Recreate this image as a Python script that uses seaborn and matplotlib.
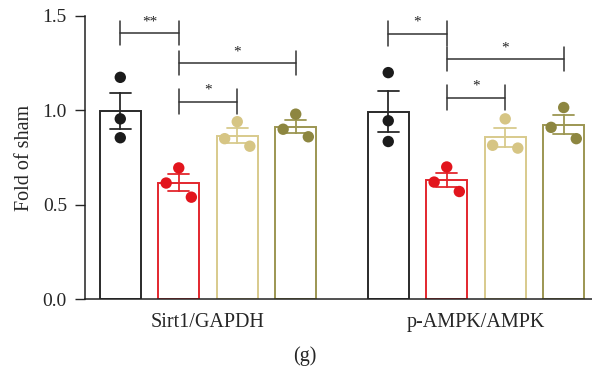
import numpy as np
import pandas as pd
import seaborn as sns
import matplotlib.pyplot as plt

sns.set_style("ticks")
plt.rcParams['font.family'] = ['Liberation Serif', 'DejaVu Serif']

markers = ["Sirt1/GAPDH", "p-AMPK/AMPK"]
groups = ["Sham", "Model", "Low", "High"]
dot_colors = ["#1b1b1b", "#e2151d", "#d6c584", "#8d8640"]
bar_colors = ["#2a2a2a", "#e3262d", "#d8ca8c", "#9c9652"]

# individual animals, fold of sham
sirt1_sham = [1.175, 0.955, 0.855]
sirt1_model = [0.695, 0.615, 0.540]
sirt1_low = [0.940, 0.850, 0.810]
sirt1_high = [0.980, 0.900, 0.860]
ampk_sham = [1.200, 0.945, 0.835]
ampk_model = [0.700, 0.620, 0.570]
ampk_low = [0.955, 0.815, 0.800]
ampk_high = [1.015, 0.910, 0.850]

# significance: (marker, group a, group b, bracket height, label)
sig_marker = [0, 0, 0, 1, 1, 1]
sig_a = [0, 1, 1, 0, 1, 1]
sig_b = [1, 3, 2, 1, 3, 2]
sig_y = [1.41, 1.25, 1.046, 1.407, 1.273, 1.067]
sig_text = ["**", "*", "*", "*", "*", "*"]

rows = []
vals = {("Sirt1/GAPDH", "Sham"): sirt1_sham, ("Sirt1/GAPDH", "Model"): sirt1_model,
        ("Sirt1/GAPDH", "Low"): sirt1_low, ("Sirt1/GAPDH", "High"): sirt1_high,
        ("p-AMPK/AMPK", "Sham"): ampk_sham, ("p-AMPK/AMPK", "Model"): ampk_model,
        ("p-AMPK/AMPK", "Low"): ampk_low, ("p-AMPK/AMPK", "High"): ampk_high}
for (m, g), v in vals.items():
    for x in v:
        rows.append({"marker": m, "group": g, "value": x})
df = pd.DataFrame(rows)

fig = plt.figure(figsize=(5.92, 3.72), dpi=100)
ax = fig.add_axes([0.1436, 0.196, 0.8564, 0.761])

sns.barplot(data=df, x="marker", y="value", hue="group", order=markers,
            hue_order=groups, palette=dict(zip(groups, bar_colors)),
            fill=False, errorbar="se", capsize=0.32, width=0.873, gap=0.3,
            linewidth=1.4, err_kws={"linewidth": 1.3}, legend=False, ax=ax)

centers = sorted(p.get_x() + p.get_width() / 2 for p in ax.patches)

n_before = len(ax.collections)
sns.stripplot(data=df, x="marker", y="value", hue="group", order=markers,
              hue_order=groups, palette=dict(zip(groups, dot_colors)),
              dodge=True, jitter=False, size=8.2, linewidth=0, legend=False,
              zorder=4, ax=ax)

# GraphPad-like spread: highest dot in middle, next left, lowest right
spread = 0.047
for coll in ax.collections[n_before:]:
    off = coll.get_offsets().copy()
    if len(off) == 0:
        continue
    idx = np.array([int(np.argmin([abs(x - c) for c in centers])) for x in off[:, 0]])
    for b in np.unique(idx):
        sel = np.where(idx == b)[0]
        order = sel[np.argsort(-off[sel, 1])]
        off[sel, 0] = centers[b]
        if b % 4 != 0 and len(order) == 3:
            off[order[1], 0] -= spread
            off[order[2], 0] += spread
    coll.set_offsets(off)

tick_h = 0.065
for m, a, b, y, t in zip(sig_marker, sig_a, sig_b, sig_y, sig_text):
    x1 = centers[m * 4 + a]
    x2 = centers[m * 4 + b]
    ax.plot([x1, x2], [y, y], color="#333333", lw=1.1, clip_on=False)
    for xx in (x1, x2):
        ax.plot([xx, xx], [y - tick_h, y + tick_h], color="#333333", lw=1.1,
                clip_on=False)
    ax.text((x1 + x2) / 2, y + 0.025, t, ha="center", va="bottom",
            fontsize=11, color="#222222")

ax.set_xlim(-0.459, 1.433)
ax.set_ylim(0, 1.5)
ax.set_yticks([0, 0.5, 1.0, 1.5])
ax.set_yticklabels(["0.0", "0.5", "1.0", "1.5"])
ax.set_xlabel("")
ax.set_ylabel("Fold of sham", fontsize=14.5, labelpad=6)
ax.tick_params(axis="y", length=7, width=1, labelsize=14, pad=6)
ax.tick_params(axis="x", length=0, labelsize=14.5, pad=10)
for s in ("left", "bottom"):
    ax.spines[s].set_linewidth(1.1)
    ax.spines[s].set_color("#222222")
sns.despine(ax=ax)

fig.text(0.515, 0.043, "(g)", ha="center", va="center", fontsize=14.5)

fig.savefig("out.png", dpi=100)
